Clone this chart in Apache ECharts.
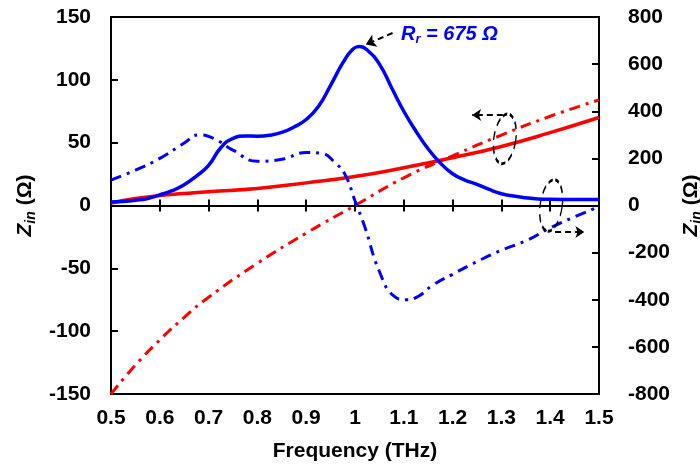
<!DOCTYPE html>
<html>
<head>
<meta charset="utf-8">
<style>
  html, body { margin: 0; padding: 0; background: #fff; }
  #chart { width: 700px; height: 472px; }
</style>
<script src="https://cdn.jsdelivr.net/npm/echarts@6/dist/echarts.min.js"></script>
</head>
<body>
<div id="chart"></div>
<script>
// Input impedance of the antenna versus frequency.
// Left axis (Ω): red curves; right axis (Ω): blue curves.
const xTicks = [0.5, 0.6, 0.7, 0.8, 0.9, 1.0, 1.1, 1.2, 1.3, 1.4, 1.5];
const leftTicks = [-150, -100, -50, 0, 50, 100, 150];
const rightTicks = [-800, -600, -400, -200, 0, 200, 400, 600, 800];

// Red, left axis
const redFreq = [0.5, 0.55, 0.6, 0.65, 0.7, 0.8, 0.9, 1.0, 1.1, 1.2, 1.3, 1.4, 1.5];
const redReal = [2, 5.5, 8, 9.5, 11, 13.5, 18, 23, 30, 38, 47, 58, 70];
const redImag = [-150, -127, -107, -89, -73, -46, -22, 0, 22, 39.5, 56, 71, 84];

// Blue, right axis
const blueRealFreq = [0.5, 0.525, 0.55, 0.575, 0.6, 0.625, 0.65, 0.675, 0.7, 0.725, 0.75, 0.775, 0.8, 0.825, 0.85, 0.875, 0.9, 0.925, 0.95, 0.975, 0.995, 1.01, 1.025, 1.05, 1.075, 1.1, 1.125, 1.15, 1.175, 1.2, 1.225, 1.25, 1.275, 1.3, 1.325, 1.35, 1.375, 1.4, 1.45, 1.5];
const blueReal = [15, 17, 22, 30, 45, 63, 88, 125, 170, 245, 285, 295, 294, 298, 310, 333, 365, 420, 510, 605, 662, 675, 660, 600, 500, 400, 315, 240, 180, 135, 108, 90, 68, 50, 40, 33, 28, 26, 25, 25];
const blueImagFreq = [0.5, 0.55, 0.6, 0.65, 0.68, 0.71, 0.75, 0.8, 0.85, 0.9, 0.93, 0.96, 0.98, 1.0, 1.02, 1.05, 1.08, 1.105, 1.13, 1.16, 1.2, 1.25, 1.3, 1.35, 1.4, 1.45, 1.5];
const blueImag = [108, 150, 200, 265, 300, 285, 235, 188, 196, 225, 222, 180, 130, 20, -90, -280, -385, -400, -385, -337, -292, -238, -190, -150, -95, -48, -5];

const peakLabel = { freq: 1.01, value: 675 };

const FONT = '"Liberation Sans", Arial, sans-serif';
const BLUE = '#0000ff';
const RED = '#ff0000';
const DASHDOT = [11, 6, 3, 6];

function pairs(xs, ys) { return xs.map((x, i) => [x, ys[i]]); }

const axisLabelStyle = { color: '#000', fontFamily: FONT, fontWeight: 'bold', fontSize: 21 };
const nameRich = {
  i: { fontFamily: FONT, fontWeight: 'bold', fontStyle: 'italic', fontSize: 21, color: '#000' },
  s: { fontFamily: FONT, fontWeight: 'bold', fontStyle: 'italic', fontSize: 14, color: '#000', padding: [12, 0, 0, 0] },
  n: { fontFamily: FONT, fontWeight: 'bold', fontSize: 21, color: '#000' }
};

const xBase = { type: 'value', min: xTicks[0], max: xTicks[xTicks.length - 1], interval: 0.1, splitLine: { show: false } };

const chart = echarts.init(document.getElementById('chart'));
chart.setOption({
  animation: false,
  backgroundColor: '#fff',
  grid: {
    left: 111, right: 101, top: 17, bottom: 78, outerBoundsMode: 'none', containLabel: false,
    show: true, borderColor: '#000', borderWidth: 2, backgroundColor: 'transparent'
  },
  xAxis: [
    Object.assign({}, xBase, {
      position: 'bottom',
      axisLine: { onZero: false, lineStyle: { color: '#000', width: 2 } },
      axisTick: { show: false },
      axisLabel: Object.assign({ margin: 14, formatter: v => String(+v.toFixed(1)) }, axisLabelStyle),
      name: 'Frequency (THz)', nameLocation: 'middle', nameGap: 47,
      nameTextStyle: { fontFamily: FONT, fontWeight: 'bold', fontSize: 21, color: '#000' }
    }),
    Object.assign({}, xBase, {
      position: 'bottom',
      axisLine: { onZero: true, onZeroAxisIndex: 0, lineStyle: { color: '#000', width: 2 } },
      axisTick: { show: true, inside: false, length: 6, lineStyle: { color: '#000', width: 2 } },
      axisLabel: { show: false }
    }),
    Object.assign({}, xBase, {
      position: 'bottom',
      axisLine: { onZero: true, onZeroAxisIndex: 0, show: false },
      axisTick: { show: true, inside: true, length: 6, lineStyle: { color: '#000', width: 2 } },
      axisLabel: { show: false }
    })
  ],
  yAxis: [
    {
      type: 'value', position: 'left', min: leftTicks[0], max: leftTicks[leftTicks.length - 1], interval: 50,
      axisLine: { show: true, lineStyle: { color: '#000', width: 2 } },
      axisTick: { show: true, inside: true, length: 7, lineStyle: { color: '#000', width: 2 } },
      axisLabel: Object.assign({ margin: 20 }, axisLabelStyle),
      splitLine: { show: false },
      name: '{i|Z}{s|in}{n| (Ω)}', nameLocation: 'middle', nameRotate: 90, nameGap: 70,
      nameTextStyle: { rich: nameRich }
    },
    {
      type: 'value', position: 'right', min: rightTicks[0], max: rightTicks[rightTicks.length - 1], interval: 200,
      axisLine: { show: true, lineStyle: { color: '#000', width: 2 } },
      axisTick: { show: true, inside: true, length: 7, lineStyle: { color: '#000', width: 2 } },
      axisLabel: Object.assign({ margin: 29 }, axisLabelStyle),
      splitLine: { show: false },
      name: '{i|Z}{s|in}{n| (Ω)}', nameLocation: 'middle', nameRotate: 90, nameGap: 77,
      nameTextStyle: { rich: nameRich }
    }
  ],
  series: [
    {
      name: 'Im red', type: 'line', xAxisIndex: 0, yAxisIndex: 0, data: pairs(redFreq, redImag),
      smooth: true, showSymbol: false, lineStyle: { color: RED, width: 3, type: DASHDOT }, z: 3
    },
    {
      name: 'Re red', type: 'line', xAxisIndex: 0, yAxisIndex: 0, data: pairs(redFreq, redReal),
      smooth: true, showSymbol: false, lineStyle: { color: RED, width: 3.5 }, z: 3,
      markPoint: {
        silent: true, symbol: 'circle', symbolSize: [22, 50], symbolRotate: -8,
        itemStyle: { color: 'transparent', borderColor: '#000', borderWidth: 2, borderType: [6, 4] },
        label: { show: false },
        data: [{ coord: [1.307, 53] }]
      },
      markLine: {
        silent: true, symbol: ['none', 'arrow'], symbolSize: 9,
        lineStyle: { color: '#000', width: 2, type: [6, 4] }, label: { show: false },
        data: [[{ coord: [1.303, 72] }, { coord: [1.24, 72] }]]
      }
    },
    {
      name: 'Im blue', type: 'line', xAxisIndex: 0, yAxisIndex: 1, data: pairs(blueImagFreq, blueImag),
      smooth: true, showSymbol: false, lineStyle: { color: BLUE, width: 3, type: DASHDOT }, z: 4,
      markPoint: {
        silent: true, symbol: 'circle', symbolSize: [22, 52], symbolRotate: -8,
        itemStyle: { color: 'transparent', borderColor: '#000', borderWidth: 2, borderType: [6, 4] },
        label: { show: false },
        data: [{ coord: [1.402, 0] }]
      },
      markLine: {
        silent: true, symbol: ['none', 'arrow'], symbolSize: 9,
        lineStyle: { color: '#000', width: 2, type: [6, 4] }, label: { show: false },
        data: [[{ coord: [1.41, -112] }, { coord: [1.47, -112] }]]
      }
    },
    {
      name: 'Re blue', type: 'line', xAxisIndex: 0, yAxisIndex: 1, data: pairs(blueRealFreq, blueReal),
      smooth: true, showSymbol: false, lineStyle: { color: BLUE, width: 3.5 }, z: 5,
      markLine: {
        silent: true, symbol: ['none', 'arrow'], symbolSize: 10,
        lineStyle: { color: '#000', width: 2, type: [6, 4] }, label: { show: false },
        data: [[{ coord: [1.077, 732] }, { coord: [peakLabel.freq + 0.012, peakLabel.value + 8] }]]
      }
    }
  ],
  graphic: [
    {
      type: 'text', left: 401, top: 24, silent: true,
      style: {
        text: '{a|R}{b|r}{a| = ' + peakLabel.value + ' Ω}',
        rich: {
          a: { fontFamily: FONT, fontWeight: 'bold', fontStyle: 'italic', fontSize: 20, fill: BLUE },
          b: { fontFamily: FONT, fontWeight: 'bold', fontStyle: 'italic', fontSize: 13, fill: BLUE, padding: [10, 0, 0, 0] }
        }
      }
    }
  ]
});
</script>
</body>
</html>
